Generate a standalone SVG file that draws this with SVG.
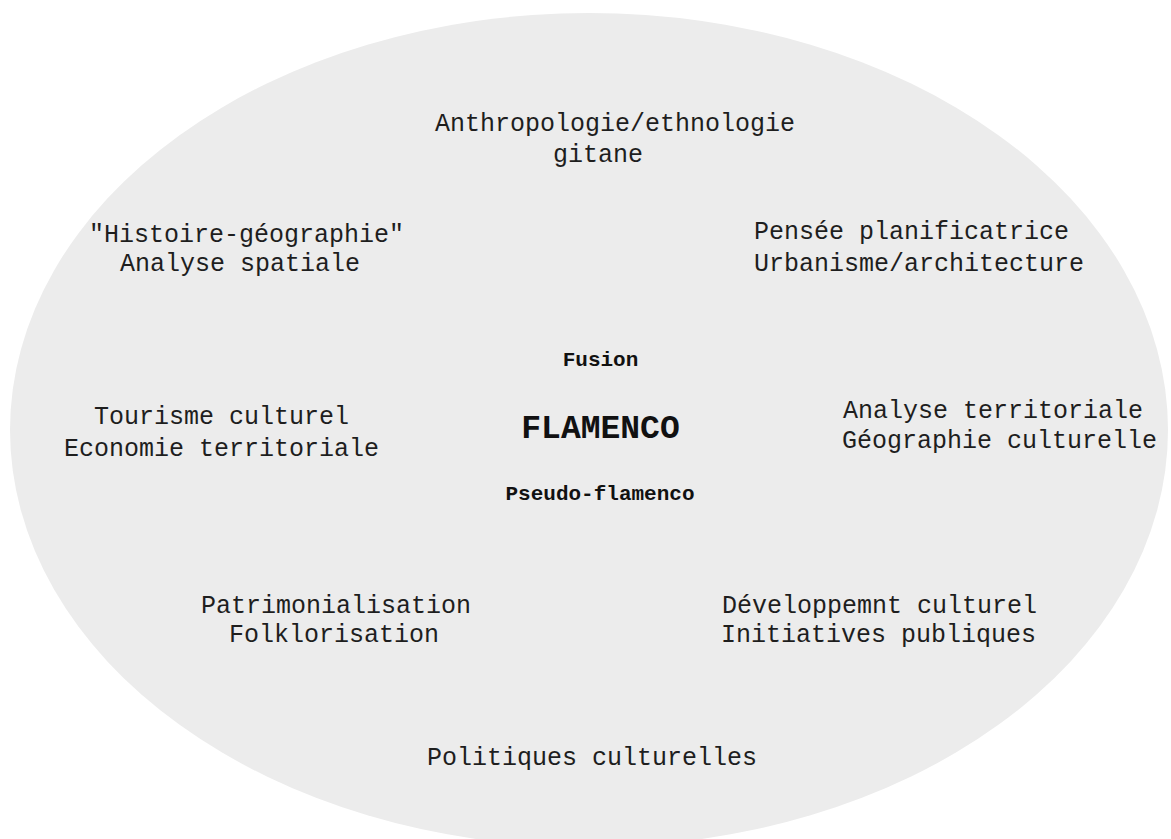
<svg xmlns="http://www.w3.org/2000/svg" width="1171" height="839" viewBox="0 0 1171 839">
<style>
.t{font-family:"Liberation Mono","Courier New",monospace;font-size:25px;fill:#1e1e1e}
.b{font-family:"Liberation Mono","Courier New",monospace;font-weight:bold;fill:#111;text-anchor:middle}
</style>
<rect x="0" y="0" width="1171" height="839" fill="#ffffff"/>
<g id="field">
<ellipse cx="589" cy="430" rx="579" ry="417" fill="#ececec"/>
</g>
<g id="anthropologie">
<text class="t" x="435" y="131">Anthropologie/ethnologie</text>
<text class="t" x="553" y="162">gitane</text>
</g>
<g id="histoire">
<text class="t" x="89" y="242">"Histoire-géographie"</text>
<text class="t" x="120" y="271">Analyse spatiale</text>
</g>
<g id="pensee">
<text class="t" x="754" y="239">Pensée planificatrice</text>
<text class="t" x="754" y="271">Urbanisme/architecture</text>
</g>
<g id="tourisme">
<text class="t" x="94" y="424">Tourisme culturel</text>
<text class="t" x="64" y="456">Economie territoriale</text>
</g>
<g id="analyse">
<text class="t" x="843" y="418">Analyse territoriale</text>
<text class="t" x="842" y="448">Géographie culturelle</text>
</g>
<g id="center">
<text class="b" x="600.5" y="366" font-size="21">Fusion</text>
<text class="b" x="600.5" y="438" font-size="33">FLAMENCO</text>
<text class="b" x="600" y="500" font-size="21">Pseudo-flamenco</text>
</g>
<g id="patrimonialisation">
<text class="t" x="201" y="613">Patrimonialisation</text>
<text class="t" x="229" y="642">Folklorisation</text>
</g>
<g id="developpement">
<text class="t" x="722" y="613">Développemnt culturel</text>
<text class="t" x="721" y="642">Initiatives publiques</text>
</g>
<g id="politiques">
<text class="t" x="427" y="765">Politiques culturelles</text>
</g>
</svg>
